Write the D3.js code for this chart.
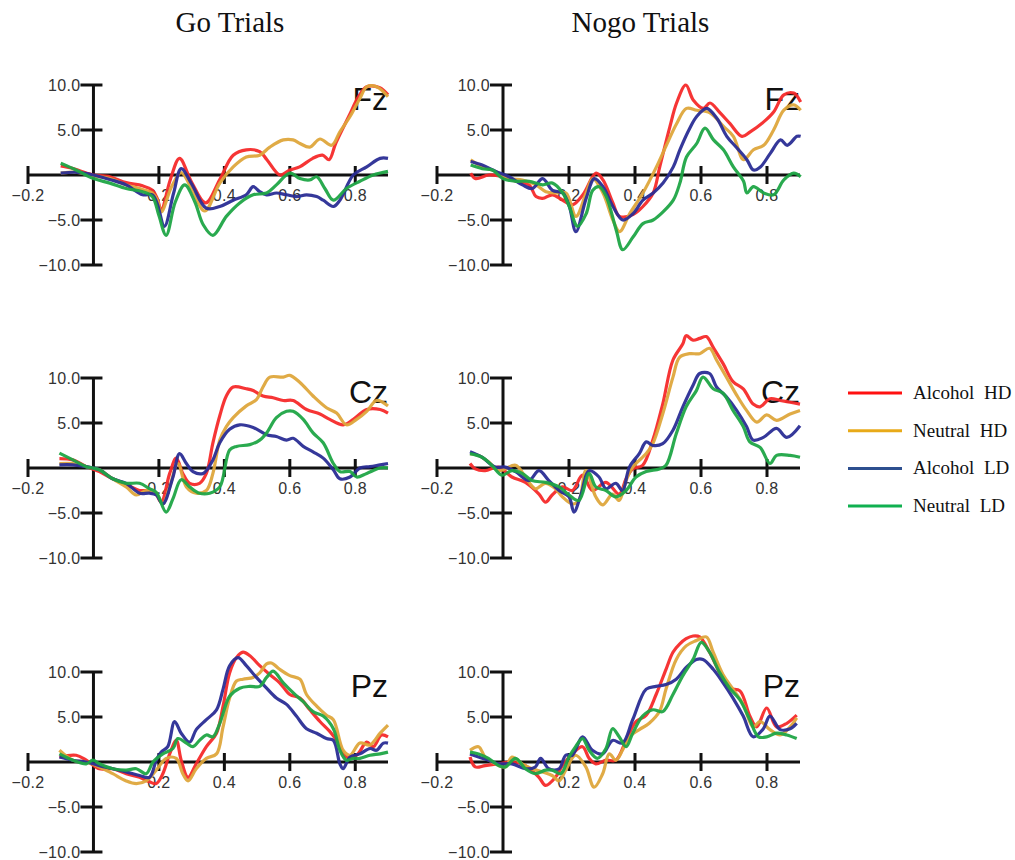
<!DOCTYPE html>
<html>
<head>
<meta charset="utf-8">
<script src="https://cdn.jsdelivr.net/npm/d3@7"></script>
<style>
  body { margin: 0; background: #fff; }
  .tick-label { font-family: "Liberation Sans", Arial, sans-serif; font-size: 16px; fill: #333; letter-spacing: 0.3px; }
  .site-label { font-family: "Liberation Sans", Arial, sans-serif; font-size: 32px; fill: #111; }
  .title { font-family: "Liberation Serif", "Times New Roman", serif; font-size: 29px; fill: #111; }
  .legend-label { font-family: "Liberation Serif", "Times New Roman", serif; font-size: 19px; fill: #111; word-spacing: 5px; }
</style>
</head>
<body>
<div id="chart"></div>
<script>
//conditions and panel names
var conditions = ["Alcohol HD", "Neutral HD", "Alcohol LD", "Neutral LD"];
var trialTypes = ["Go Trials", "Nogo Trials"];
var sites = ["Fz", "Cz", "Pz"];

//axis ticks
var xTicks = [-0.2, 0.2, 0.4, 0.6, 0.8];
var yTicks = [10, 5, -5, -10];

//series: [time (s), amplitude (uV)]
var goFzAlcoholHD = [[-0.1,1.0],[-0.06,0.7],[-0.02,0.2],[0,0],[0.05,-0.2],[0.1,-0.85],[0.15,-1.2],[0.18,-1.7],[0.195,-2.6],[0.207,-3.9],[0.235,-0.5],[0.263,1.85],[0.3,-0.8],[0.343,-3.1],[0.386,-0.5],[0.427,2.2],[0.467,2.8],[0.508,2.6],[0.53,1.7],[0.57,0],[0.6,0.55],[0.63,0.9],[0.67,1.85],[0.7,2.2],[0.72,1.7],[0.74,3.5],[0.78,6.5],[0.81,8.7],[0.835,9.8],[0.875,9.7],[0.9,8.9]];
var goFzNeutralHD = [[-0.1,0.2],[-0.05,0.3],[0,-0.1],[0.05,-0.4],[0.1,-1.1],[0.15,-1.6],[0.18,-2.0],[0.195,-2.8],[0.207,-4.1],[0.24,-1.2],[0.268,0.26],[0.3,-1.5],[0.34,-4.0],[0.386,-0.9],[0.427,0.9],[0.467,2.0],[0.508,2.2],[0.539,3.1],[0.58,3.9],[0.61,3.9],[0.631,3.5],[0.661,3.1],[0.692,4.0],[0.728,3.3],[0.753,4.8],[0.784,6.5],[0.814,8.5],[0.835,9.8],[0.865,9.8],[0.9,8.7]];
var goFzAlcoholLD = [[-0.1,0.2],[-0.05,0.3],[0,0],[0.05,-0.5],[0.1,-1.1],[0.15,-2.2],[0.18,-2.2],[0.195,-3.2],[0.217,-5.7],[0.245,-2.0],[0.268,0.7],[0.3,-1.0],[0.345,-3.7],[0.386,-3.5],[0.427,-2.8],[0.467,-2.2],[0.488,-1.3],[0.508,-1.85],[0.529,-2.2],[0.559,-2.0],[0.59,-2.2],[0.62,-2.4],[0.651,-2.2],[0.682,-2.4],[0.702,-2.8],[0.733,-3.5],[0.753,-2.8],[0.794,0],[0.835,0.9],[0.876,1.85],[0.9,1.85]];
var goFzNeutralLD = [[-0.1,1.3],[-0.05,0.5],[0,-0.4],[0.05,-0.9],[0.1,-1.5],[0.15,-1.85],[0.18,-2.4],[0.2,-4.5],[0.222,-6.7],[0.25,-3.0],[0.279,-1.1],[0.31,-3.0],[0.335,-5.5],[0.365,-6.7],[0.406,-4.6],[0.447,-3.1],[0.488,-2.2],[0.529,-2.0],[0.559,-1.1],[0.6,0.2],[0.631,-0.4],[0.661,-0.55],[0.682,-0.2],[0.707,-1.5],[0.733,-2.8],[0.773,-1.5],[0.814,-0.7],[0.855,0],[0.9,0.4]];

var nogoFzAlcoholHD = [[-0.098,0.2],[-0.083,-0.4],[-0.043,0],[0,-0.2],[0.039,-0.7],[0.079,-1.1],[0.1,-2.4],[0.12,-2.6],[0.15,-2.2],[0.181,-2.8],[0.211,-3.3],[0.242,-2.2],[0.282,0.2],[0.303,-0.55],[0.333,-3.1],[0.353,-4.6],[0.394,-4.4],[0.424,-3.5],[0.455,-2.0],[0.475,0.9],[0.506,5.4],[0.526,8.0],[0.554,10.0],[0.577,8.3],[0.607,7.4],[0.627,8.0],[0.658,6.9],[0.688,5.7],[0.724,4.3],[0.749,4.8],[0.79,5.9],[0.82,7.0],[0.851,8.9],[0.881,9.1],[0.902,8.1]];
var nogoFzNeutralHD = [[-0.098,1.7],[-0.063,0.9],[-0.022,0.4],[0.018,-0.4],[0.059,-0.55],[0.1,-1.1],[0.13,-1.85],[0.16,-2.0],[0.191,-2.0],[0.221,-4.6],[0.252,-2.0],[0.272,-0.4],[0.303,-2.0],[0.333,-5.0],[0.353,-6.3],[0.384,-4.3],[0.424,-2.0],[0.465,0.9],[0.495,3.3],[0.526,5.7],[0.556,7.4],[0.587,7.2],[0.627,6.9],[0.668,5.4],[0.698,4.3],[0.729,1.7],[0.759,2.8],[0.79,3.3],[0.82,5.0],[0.851,7.2],[0.881,7.8],[0.902,7.2]];
var nogoFzAlcoholLD = [[-0.098,1.5],[-0.063,1.1],[-0.022,0.4],[0.018,-0.2],[0.059,-1.1],[0.089,-1.5],[0.12,-0.4],[0.15,-1.7],[0.181,-2.0],[0.201,-3.5],[0.221,-6.3],[0.252,-2.6],[0.277,-0.4],[0.303,-1.3],[0.333,-3.5],[0.363,-5.0],[0.394,-4.3],[0.424,-2.8],[0.455,-2.0],[0.485,-0.9],[0.516,0.9],[0.536,2.8],[0.566,5.2],[0.587,6.5],[0.617,7.4],[0.648,6.3],[0.678,4.3],[0.709,3.0],[0.739,1.7],[0.759,0.55],[0.78,0.9],[0.81,2.4],[0.841,3.9],[0.861,3.3],[0.891,4.3],[0.902,4.3]];
var nogoFzNeutralLD = [[-0.098,1.1],[-0.063,0.7],[-0.032,0.55],[0,-0.4],[0.039,-0.7],[0.079,-0.7],[0.12,-1.1],[0.15,-0.9],[0.181,-2.0],[0.201,-3.5],[0.226,-5.7],[0.252,-4.3],[0.272,-1.7],[0.292,-1.3],[0.313,-2.4],[0.343,-6.1],[0.363,-8.3],[0.394,-6.9],[0.424,-5.4],[0.455,-5.0],[0.485,-4.1],[0.516,-2.8],[0.536,-0.9],[0.556,2.0],[0.587,3.5],[0.612,5.2],[0.638,3.9],[0.668,2.8],[0.698,0.9],[0.729,-0.7],[0.739,-2.0],[0.759,-1.3],[0.79,-2.0],[0.82,-2.2],[0.851,-0.55],[0.881,0.2],[0.902,-0.2]];

var goCzAlcoholHD = [[-0.104,1.05],[-0.063,0.9],[-0.022,0.15],[0.018,-0.4],[0.059,-1.2],[0.1,-1.8],[0.141,-2.5],[0.171,-2.5],[0.19,-2.8],[0.207,-3.8],[0.233,-0.6],[0.253,1.1],[0.273,-0.6],[0.294,-1.7],[0.324,-1.7],[0.345,-0.6],[0.365,2.8],[0.386,5.8],[0.406,8.0],[0.427,9.0],[0.467,8.8],[0.488,8.6],[0.518,8.0],[0.549,7.8],[0.58,7.5],[0.61,7.5],[0.651,6.5],[0.692,6.0],[0.722,5.4],[0.763,4.8],[0.794,5.4],[0.835,6.5],[0.876,6.5],[0.9,6.1]];
var goCzNeutralHD = [[-0.104,0.5],[-0.063,0.5],[-0.022,0.15],[0.018,-0.2],[0.059,-1.2],[0.1,-2.1],[0.131,-3.0],[0.161,-2.5],[0.192,-2.8],[0.212,-4.0],[0.233,-2.1],[0.258,0.5],[0.284,-2.1],[0.314,-2.8],[0.345,-2.5],[0.365,-0.6],[0.386,3.1],[0.406,4.6],[0.427,5.6],[0.467,6.9],[0.498,7.6],[0.518,9.0],[0.539,10.1],[0.58,10.1],[0.6,10.3],[0.631,9.5],[0.671,8.0],[0.712,6.7],[0.743,6.1],[0.773,4.8],[0.804,5.4],[0.835,6.3],[0.865,7.5],[0.9,6.9]];
var goCzAlcoholLD = [[-0.104,0.35],[-0.063,0.35],[-0.022,0.15],[0.018,-0.2],[0.059,-1.2],[0.1,-1.7],[0.141,-2.8],[0.171,-2.8],[0.192,-3.0],[0.212,-4.0],[0.243,-1.0],[0.263,1.6],[0.284,0.5],[0.304,-0.4],[0.335,-0.6],[0.365,0.9],[0.386,2.8],[0.416,4.3],[0.447,4.8],[0.488,4.5],[0.529,3.7],[0.559,3.5],[0.59,3.1],[0.61,3.3],[0.641,2.4],[0.671,1.8],[0.702,1.1],[0.733,-0.2],[0.753,-1.2],[0.784,-1.0],[0.814,0],[0.845,0.15],[0.876,0.35],[0.9,0.5]];
var goCzNeutralLD = [[-0.104,1.65],[-0.063,0.9],[-0.022,0.15],[-0.002,0],[0.018,-0.2],[0.059,-1.2],[0.1,-1.7],[0.141,-1.7],[0.171,-2.3],[0.192,-2.7],[0.222,-4.9],[0.243,-3.4],[0.268,-1.3],[0.294,-2.1],[0.324,-2.8],[0.355,-2.8],[0.386,-2.1],[0.416,2.0],[0.437,2.4],[0.478,2.6],[0.508,3.1],[0.529,3.9],[0.559,5.6],[0.59,6.3],[0.61,6.3],[0.641,5.4],[0.671,3.9],[0.702,2.8],[0.733,0.5],[0.753,-0.4],[0.784,-0.4],[0.804,-1.0],[0.835,-0.6],[0.876,0],[0.9,0]];

var nogoCzAlcoholHD = [[-0.1,0.5],[-0.084,-0.1],[-0.054,-0.3],[-0.013,0.1],[0.027,-1.0],[0.068,-1.6],[0.109,-2.9],[0.129,-3.8],[0.149,-3.0],[0.18,-2.1],[0.21,-2.5],[0.241,-0.8],[0.271,-2.5],[0.312,-1.6],[0.352,-2.9],[0.373,-1.2],[0.393,-0.1],[0.423,0.3],[0.454,3.1],[0.484,7.1],[0.515,12.0],[0.545,13.8],[0.555,14.7],[0.576,14.2],[0.596,14.4],[0.616,14.6],[0.637,13.4],[0.667,11.6],[0.697,9.6],[0.728,8.8],[0.758,7.1],[0.779,6.8],[0.809,7.7],[0.84,7.5],[0.87,7.3],[0.9,7.1]];
var nogoCzNeutralHD = [[-0.1,1.6],[-0.074,1.4],[-0.044,0.7],[-0.013,-0.3],[0.038,0.3],[0.068,-1.0],[0.098,-2.3],[0.129,-1.7],[0.159,-2.3],[0.18,-3.2],[0.21,-4.0],[0.23,-3.6],[0.251,-0.3],[0.281,-3.2],[0.302,-4.1],[0.332,-2.9],[0.352,-3.6],[0.373,-1.4],[0.393,0.1],[0.434,1.6],[0.454,2.7],[0.484,6.0],[0.515,10.1],[0.535,12.3],[0.565,12.7],[0.596,12.7],[0.626,13.3],[0.647,12.0],[0.677,10.1],[0.708,8.1],[0.738,6.4],[0.769,5.1],[0.799,5.9],[0.829,5.3],[0.87,6.0],[0.9,6.4]];
var nogoCzAlcoholLD = [[-0.1,1.8],[-0.064,1.2],[-0.023,0.1],[0.007,0.1],[0.038,-0.4],[0.078,-1.4],[0.109,-0.3],[0.139,-1.4],[0.17,-2.5],[0.2,-3.2],[0.215,-4.9],[0.236,-3.0],[0.261,-0.3],[0.291,-1.0],[0.312,-2.3],[0.342,-1.7],[0.362,-2.5],[0.383,0.1],[0.413,1.6],[0.434,2.9],[0.454,2.5],[0.484,2.7],[0.515,4.2],[0.545,6.8],[0.576,9.2],[0.596,10.5],[0.626,10.5],[0.647,9.0],[0.677,7.9],[0.708,6.4],[0.738,4.6],[0.758,3.1],[0.789,3.4],[0.829,4.4],[0.86,3.4],[0.9,4.7]];
var nogoCzNeutralLD = [[-0.1,1.6],[-0.064,1.2],[-0.034,0.3],[-0.003,-0.8],[0.027,-0.3],[0.058,-0.6],[0.088,-1.4],[0.129,-1.6],[0.17,-2.1],[0.2,-3.0],[0.23,-3.6],[0.261,-0.6],[0.281,-2.1],[0.312,-2.5],[0.342,-3.2],[0.373,-2.5],[0.403,-1.0],[0.434,-0.4],[0.474,-0.1],[0.494,0.3],[0.525,3.8],[0.555,6.8],[0.586,8.6],[0.606,10.1],[0.637,8.8],[0.667,8.3],[0.697,6.4],[0.728,4.6],[0.748,2.9],[0.779,2.3],[0.809,0.5],[0.829,1.4],[0.87,1.4],[0.9,1.2]];

var goPzAlcoholHD = [[-0.104,0.55],[-0.053,0.75],[-0.022,0.2],[0.018,-0.75],[0.059,-0.75],[0.1,-1.3],[0.141,-1.7],[0.171,-2.2],[0.192,-2.4],[0.212,-1.3],[0.233,0.9],[0.253,2.4],[0.268,0.2],[0.289,-1.7],[0.314,-0.2],[0.345,1.7],[0.376,3.2],[0.396,6.2],[0.416,9.9],[0.437,11.6],[0.457,12.2],[0.478,11.8],[0.508,10.7],[0.539,9.7],[0.569,8.8],[0.6,7.5],[0.631,7.1],[0.661,5.8],[0.692,4.5],[0.722,3.4],[0.743,2.4],[0.773,0.55],[0.804,0.75],[0.835,2.2],[0.855,1.7],[0.88,3.0],[0.9,2.8]];
var goPzNeutralHD = [[-0.104,1.3],[-0.063,0.2],[-0.022,0],[0.018,-0.55],[0.059,-1.3],[0.1,-2.1],[0.131,-2.4],[0.161,-2.1],[0.192,-0.9],[0.222,0.4],[0.253,0.4],[0.273,-1.3],[0.289,-2.1],[0.314,-0.75],[0.345,0.4],[0.376,0.9],[0.396,3.9],[0.416,7.1],[0.437,9.0],[0.457,9.2],[0.488,9.4],[0.508,9.9],[0.529,10.9],[0.544,11.0],[0.569,10.3],[0.6,9.6],[0.631,9.2],[0.651,7.5],[0.682,6.2],[0.712,5.2],[0.733,4.7],[0.763,1.3],[0.784,0.75],[0.814,2.1],[0.845,1.9],[0.876,3.2],[0.9,4.1]];
var goPzAlcoholLD = [[-0.104,0.55],[-0.063,0.2],[-0.022,0],[0.018,-0.4],[0.059,-0.75],[0.1,-1.1],[0.141,-1.5],[0.171,-1.7],[0.192,0.2],[0.207,1.1],[0.227,1.7],[0.248,4.5],[0.268,3.2],[0.294,2.2],[0.314,3.6],[0.345,4.7],[0.376,5.8],[0.396,8.1],[0.416,10.7],[0.442,11.6],[0.467,10.7],[0.498,9.4],[0.529,8.2],[0.559,7.1],[0.59,6.4],[0.62,5.1],[0.651,3.7],[0.682,3.2],[0.712,2.6],[0.733,2.4],[0.753,-0.2],[0.763,-0.75],[0.784,0.55],[0.814,0.9],[0.845,1.5],[0.865,1.3],[0.886,2.1],[0.9,2.1]];
var goPzNeutralLD = [[-0.104,0.9],[-0.063,0.2],[-0.022,-0.2],[-0.002,0.2],[0.018,-0.2],[0.059,-0.75],[0.1,-0.9],[0.131,-0.75],[0.161,-1.3],[0.182,0],[0.212,0.9],[0.243,1.5],[0.258,2.6],[0.284,2.1],[0.304,1.7],[0.324,2.4],[0.345,3.0],[0.365,2.8],[0.386,4.3],[0.416,7.3],[0.447,8.2],[0.478,8.4],[0.508,8.4],[0.529,9.4],[0.549,10.1],[0.58,8.8],[0.61,7.7],[0.641,6.7],[0.671,5.6],[0.702,5.1],[0.733,3.7],[0.753,1.3],[0.773,0.2],[0.794,0.4],[0.814,0.4],[0.845,0.75],[0.876,0.9],[0.9,1.1]];

var nogoPzAlcoholHD = [[-0.1,0.55],[-0.084,-0.55],[-0.054,-0.4],[-0.013,-0.2],[0.027,0],[0.068,-0.4],[0.109,-1.7],[0.129,-2.6],[0.159,-1.7],[0.18,-0.4],[0.21,0.9],[0.241,1.7],[0.261,0.4],[0.281,-0.2],[0.312,0.2],[0.342,0.2],[0.373,2.4],[0.403,4.5],[0.434,5.2],[0.464,7.5],[0.494,10.3],[0.515,12.2],[0.535,13.1],[0.555,13.7],[0.576,14.0],[0.596,13.9],[0.626,12.2],[0.657,9.9],[0.687,8.2],[0.718,7.9],[0.748,5.1],[0.769,3.9],[0.799,6.0],[0.829,3.9],[0.86,4.3],[0.89,5.2]];
var nogoPzNeutralHD = [[-0.1,1.3],[-0.074,1.7],[-0.054,0.55],[-0.023,-0.2],[0.007,-0.55],[0.027,0.55],[0.058,-0.2],[0.088,-0.75],[0.119,-1.1],[0.149,-1.5],[0.17,-2.1],[0.19,-0.9],[0.22,0.75],[0.251,-0.55],[0.276,-2.8],[0.302,-1.3],[0.322,0.9],[0.342,0.2],[0.362,1.3],[0.383,2.8],[0.413,3.6],[0.443,4.3],[0.474,5.6],[0.494,8.1],[0.525,11.4],[0.555,12.9],[0.586,13.5],[0.616,13.9],[0.637,12.2],[0.667,9.7],[0.697,8.1],[0.728,6.4],[0.758,3.9],[0.779,4.5],[0.809,3.6],[0.84,3.0],[0.87,3.9],[0.89,4.9]];
var nogoPzAlcoholLD = [[-0.1,0.9],[-0.074,0.55],[-0.044,0.2],[-0.013,-0.2],[0.027,-0.2],[0.068,-0.75],[0.098,-0.55],[0.114,0.4],[0.139,-0.75],[0.17,-0.75],[0.19,0.75],[0.21,0.75],[0.241,2.8],[0.271,1.3],[0.302,0.9],[0.332,2.4],[0.362,2.1],[0.393,4.7],[0.434,8.1],[0.464,8.4],[0.494,8.6],[0.525,9.2],[0.555,10.5],[0.586,11.4],[0.606,11.4],[0.637,10.3],[0.667,8.8],[0.697,7.1],[0.728,5.1],[0.758,2.8],[0.789,3.7],[0.809,5.1],[0.84,3.6],[0.87,3.7],[0.89,4.3]];
var nogoPzNeutralLD = [[-0.1,1.1],[-0.074,0.9],[-0.044,0.4],[-0.013,-0.4],[0.007,-0.55],[0.038,0.4],[0.068,-0.75],[0.098,-1.3],[0.129,-0.9],[0.149,-0.9],[0.175,-1.3],[0.2,0.55],[0.22,1.7],[0.241,2.6],[0.261,1.3],[0.286,0.4],[0.312,1.5],[0.332,3.7],[0.352,2.8],[0.373,1.7],[0.393,3.2],[0.423,5.1],[0.454,5.8],[0.484,5.6],[0.515,7.5],[0.545,9.6],[0.576,11.4],[0.601,13.3],[0.626,12.2],[0.657,9.9],[0.687,8.2],[0.718,6.9],[0.748,4.7],[0.774,2.8],[0.799,2.8],[0.829,3.2],[0.86,3.0],[0.89,2.6]];

//series per panel: [row][col], each in condition order
var panelSeries = [
  [[goFzAlcoholHD, goFzNeutralHD, goFzAlcoholLD, goFzNeutralLD], [nogoFzAlcoholHD, nogoFzNeutralHD, nogoFzAlcoholLD, nogoFzNeutralLD]],
  [[goCzAlcoholHD, goCzNeutralHD, goCzAlcoholLD, goCzNeutralLD], [nogoCzAlcoholHD, nogoCzNeutralHD, nogoCzAlcoholLD, nogoCzNeutralLD]],
  [[goPzAlcoholHD, goPzNeutralHD, goPzAlcoholLD, goPzNeutralLD], [nogoPzAlcoholHD, nogoPzNeutralHD, nogoPzAlcoholLD, nogoPzNeutralLD]]
];

//colours
var lineColors = ["#f52a2a", "#dea63c", "#2a2d95", "#1fa546"];
var legendColors = ["#ff1010", "#e8aa18", "#2d4f8f", "#10b050"];

//layout
var width = 1015;
var height = 860;
var colRanges = [[28, 388], [437, 800]];
var rowZero = [175, 468, 762];
var halfHeight = 90;

var svg = d3
  .select("#chart")
  .append("svg")
  .attr("width", width)
  .attr("height", height)
  .style("background", "#fff");

//column titles
svg
  .selectAll(".title")
  .data(trialTypes)
  .enter()
  .append("text")
  .attr("class", "title")
  .attr("x", function(d, i) {
    return (colRanges[i][0] + colRanges[i][1]) / 2 + 22;
  })
  .attr("y", 32)
  .attr("text-anchor", "middle")
  .text(function(d) {
    return d;
  });

var fmt = d3.format(".1f");

//draw one panel
var drawPanel = function(row, col) {
  var x = d3.scaleLinear().domain([-0.2, 0.9]).range(colRanges[col]);
  var y = d3
    .scaleLinear()
    .domain([-10, 10])
    .range([rowZero[row] + halfHeight, rowZero[row] - halfHeight]);

  var g = svg.append("g").attr("class", "panel");

  //horizontal axis
  g.append("line")
    .attr("x1", x(-0.2))
    .attr("x2", x(0.9))
    .attr("y1", y(0))
    .attr("y2", y(0))
    .style("stroke", "#111")
    .style("stroke-width", 3);

  g.selectAll(".xtick")
    .data(xTicks)
    .enter()
    .append("line")
    .attr("class", "xtick")
    .attr("x1", function(d) { return x(d); })
    .attr("x2", function(d) { return x(d); })
    .attr("y1", y(0) - 9)
    .attr("y2", y(0) + 9)
    .style("stroke", "#111")
    .style("stroke-width", 3);

  g.selectAll(".xlabel")
    .data(xTicks)
    .enter()
    .append("text")
    .attr("class", "tick-label")
    .attr("x", function(d) { return x(d); })
    .attr("y", y(0) + 26)
    .attr("text-anchor", "middle")
    .text(function(d) { return fmt(d); });

  //vertical axis
  g.append("line")
    .attr("x1", x(0))
    .attr("x2", x(0))
    .attr("y1", y(10))
    .attr("y2", y(-10))
    .style("stroke", "#111")
    .style("stroke-width", 3);

  g.selectAll(".ytick")
    .data(yTicks)
    .enter()
    .append("line")
    .attr("class", "ytick")
    .attr("x1", x(0) - 13)
    .attr("x2", x(0) + 9)
    .attr("y1", function(d) { return y(d); })
    .attr("y2", function(d) { return y(d); })
    .style("stroke", "#111")
    .style("stroke-width", 3);

  g.selectAll(".ylabel")
    .data(yTicks)
    .enter()
    .append("text")
    .attr("class", "tick-label")
    .attr("x", x(0) - 13)
    .attr("y", function(d) { return y(d); })
    .attr("dy", "0.36em")
    .attr("text-anchor", "end")
    .text(function(d) { return fmt(d); });

  //electrode site
  g.append("text")
    .attr("class", "site-label")
    .attr("x", x(0.9))
    .attr("y", y(0) - 65)
    .attr("text-anchor", "end")
    .text(sites[row]);

  //waveforms
  var line = d3
    .line()
    .x(function(d) { return x(d[0]); })
    .y(function(d) { return y(d[1]); })
    .curve(d3.curveCatmullRom.alpha(0.5));

  g.selectAll(".wave")
    .data(panelSeries[row][col])
    .enter()
    .append("path")
    .attr("class", "wave")
    .attr("d", line)
    .style("fill", "none")
    .style("stroke", function(d, i) { return lineColors[i]; })
    .style("stroke-width", 3.2)
    .style("stroke-linejoin", "round")
    .style("opacity", 0.95);
};

sites.forEach(function(s, row) {
  trialTypes.forEach(function(t, col) {
    drawPanel(row, col);
  });
});

//legend
var legend = svg
  .selectAll(".legend")
  .data(conditions)
  .enter()
  .append("g")
  .attr("class", "legend")
  .attr("transform", function(d, i) {
    return "translate(848," + (393 + i * 37.7) + ")";
  });

legend
  .append("line")
  .attr("x1", 0)
  .attr("x2", 54)
  .style("stroke", function(d, i) { return legendColors[i]; })
  .style("stroke-width", 3);

legend
  .append("text")
  .attr("class", "legend-label")
  .attr("x", 65)
  .attr("y", 6)
  .text(function(d) { return d; });
</script>
</body>
</html>
